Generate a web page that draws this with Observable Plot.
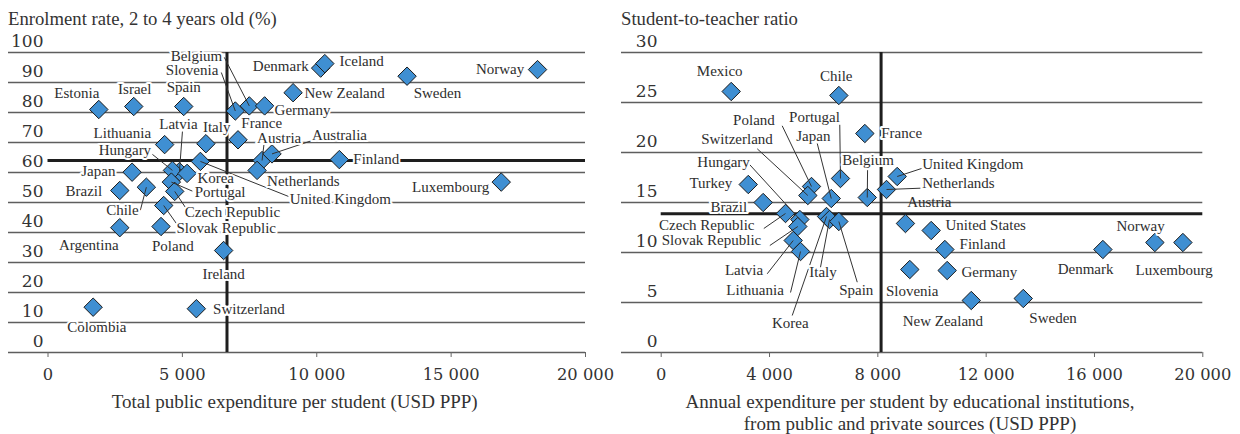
<!DOCTYPE html>
<html><head><meta charset="utf-8">
<script src="https://cdn.jsdelivr.net/npm/d3@7"></script>
<script src="https://cdn.jsdelivr.net/npm/@observablehq/plot@0.6"></script>
<style>
body{margin:0;background:#fff;width:1240px;height:434px;overflow:hidden;font-family:"Liberation Serif",serif;color:#333;position:relative}
.panel{position:absolute;top:0;height:434px}
.title{position:absolute;font-size:18.7px;line-height:20px;white-space:nowrap}
.xtitle{position:absolute;font-size:19px;line-height:22px;text-align:center;white-space:nowrap}
.panel svg{position:absolute;top:20px;left:0;overflow:visible}
</style></head><body>
<div id="left" class="panel" style="left:0;width:610px">
  <div class="title" style="left:8px;top:8.7px">Enrolment rate, 2 to 4 years old (%)</div>
  <div class="xtitle" style="left:44.7px;width:500px;top:390.6px">Total public expenditure per student (USD PPP)</div>
</div>
<div id="right" class="panel" style="left:610px;width:630px">
  <div class="title" style="left:11px;top:8.7px">Student-to-teacher ratio</div>
  <div class="xtitle" style="left:0px;width:600px;top:390.6px">Annual expenditure per student by educational institutions,<br>from public and private sources (USD PPP)</div>
</div>
<script>
// ---------- DATA ----------
const enrolCountries = ["Estonia","Israel","Spain","Slovenia","Belgium","Germany","France","Italy","Lithuania","Latvia","Hungary","Korea","United Kingdom","Portugal","Czech Republic","Slovak Republic","Poland","Chile","Brazil","Japan","Argentina","Ireland","Austria","Australia","Netherlands","Finland","Luxembourg","Norway","Sweden","Denmark","Iceland","New Zealand","Colombia","Switzerland"];
const enrolSpend = [1890,3190,5050,6970,7490,8060,7070,5875,4340,4890,4630,5175,5670,4590,4715,4305,4205,3660,2670,3130,2670,6535,7965,8335,7780,10840,16865,18215,13360,10145,10300,9120,1680,5520];
const enrolRate = [81,82,82,80.5,82.2,82.2,70.9,69.6,69.3,60.3,60.7,59.7,63.7,56.8,53.7,49,42,55.1,54,60.1,41.6,34,64,66.2,60.7,64.3,56.8,94.3,92.1,94.8,96.3,86.6,15.1,14.6];
const enrolMeanSpend = 6660;
const enrolMeanRate = 64;

const ratioCountries = ["Mexico","Chile","France","Turkey","Brazil","Poland","Switzerland","Portugal","Japan","Belgium","United Kingdom","Netherlands","Hungary","Czech Republic","Slovak Republic","Latvia","Lithuania","Korea","Italy","Spain","Austria","United States","Finland","Norway","Luxembourg","Denmark","Germany","Slovenia","New Zealand","Sweden"];
const ratioSpend = [2585,6560,7520,3215,3765,5550,5415,6620,6280,7610,8715,8320,5120,4590,5045,4875,5145,6105,6215,6560,9020,9970,10475,18230,19265,16310,10560,9180,11450,13370];
const ratioValue = [26.1,25.7,21.9,16.8,15.0,16.6,15.7,17.4,15.4,15.5,17.6,16.3,13.3,13.9,12.6,11.2,10.1,13.6,13.3,13.1,12.9,12.2,10.3,11.0,11.0,10.3,8.2,8.3,5.2,5.4];
const ratioMeanSpend = 8120;
const ratioMeanValue = 13.87;

const xTicksLeft = [0,5000,10000,15000,20000];
const xTicksRight = [0,4000,8000,12000,16000,20000];
const yTicksLeft = [0,10,20,30,40,50,60,70,80,90,100];
const yTicksRight = [0,5,10,15,20,25,30];

// ---------- LABEL LAYOUT (pixel offsets from each point: dx, dy, anchor, leader start dx, dy, halo) ----------
const layoutLeft = {
  "Estonia":[-22,-16,"middle"], "Israel":[1,-17,"middle"], "Spain":[0,-19,"middle"],
  "Belgium":[-27,-49.5,"end",-25,-48.5], "Slovenia":[-17,-40.5,"end",-14,-38.5],
  "Germany":[10,4.5,"start"], "France":[3.3,-16.5,"start"], "Italy":[-3,-16.6,"start"],
  "Lithuania":[-13.6,-11.7,"end"], "Latvia":[-1,-47.7,"middle",3,-40],
  "Hungary":[-21.3,-20,"end",-20,-16], "Japan":[-16.7,-1,"end"], "Brazil":[-17.6,0.7,"end"],
  "Chile":[-7.7,23.3,"end",-6,23], "Korea":[10.3,4.5,"start"],
  "United Kingdom":[89.3,38,"start",88,35], "Portugal":[23.3,10.5,"start",21,9],
  "Czech Republic":[10,21,"start",10.7,16], "Slovak Republic":[12.7,22.5,"start",12.7,18],
  "Poland":[11.8,19.7,"middle"], "Argentina":[-31,17.7,"middle"], "Ireland":[0,23.3,"middle"],
  "Colombia":[3.6,20,"middle"], "Switzerland":[16.7,0.7,"start"],
  "Austria":[-5,-22.5,"start",2,-17], "Australia":[40,-18.3,"start",39,-13],
  "Netherlands":[10,11,"start"], "Finland":[14,0,"start"], "Denmark":[-12,-1.5,"end"],
  "Iceland":[14.8,-2,"start"], "New Zealand":[11.3,0,"start"], "Sweden":[6.6,17,"start"],
  "Norway":[-13.3,-0.7,"end"], "Luxembourg":[-12,5,"end"]
};
const layoutRight = {
  "Mexico":[-11.5,-20.7,"middle"], "Chile":[-2.6,-19,"middle"], "France":[16.4,0,"start"],
  "Poland":[-36.7,-66.4,"end",-29.3,-60.7], "Portugal":[-26,-61.7,"middle",-0.7,-53.7],
  "Japan":[-17.9,-62.6,"middle",-14,-55], "Switzerland":[-35,-56.7,"end",-50.6,-46.7],
  "Hungary":[-50,-57.3,"end",-50,-54.7], "Turkey":[-16,-1.3,"end"], "Brazil":[-16,4.3,"end"],
  "Belgium":[0.8,-37.3,"middle",0.3,-27.3], "United Kingdom":[25,-12.7,"start",24.3,-8],
  "Netherlands":[35.7,-6,"start",34,-1.3], "Austria":[1.7,-21,"start",null,null,false],
  "Czech Republic":[-31,11.7,"end",-21.7,15], "Slovak Republic":[-36.6,14,"end",-28,19],
  "Latvia":[-30,30,"end",-26,33.3], "Lithuania":[-16.7,38.3,"end",-10,41],
  "Korea":[-36.2,106.7,"middle",-34.3,99], "Italy":[-6.5,52.7,"middle",-9,47.7],
  "Spain":[17.4,69,"middle",18.4,60.7], "Slovenia":[2.4,21.4,"middle"],
  "United States":[14.3,-5,"start"], "Finland":[14.7,-5.7,"start"], "Germany":[14.3,1.7,"start"],
  "New Zealand":[-28.4,20.7,"middle"], "Sweden":[29.8,20,"middle"], "Denmark":[-17.3,20,"middle"],
  "Norway":[-14.3,-16.7,"middle"], "Luxembourg":[-8.8,27.3,"middle"]
};

const fmt = d3.formatLocale({decimal:".", thousands:" ", grouping:[3], currency:["",""]}).format(",");

function panel({names, xv, yv, layout, xTicks, yTicks, xDomain, yDomain, meanX, meanY, width, mL, mR, ydx}) {
  const H = 370, mT = 32, mB = 38;
  const xs = Plot.scale({x: {domain: xDomain, range: [mL, width - mR]}});
  const ys = Plot.scale({y: {domain: yDomain, range: [H - mB, mT]}});
  const rows = names.map((n, i) => {
    const [dx, dy, anchor, ldx, ldy, halo] = layout[n];
    const px = xs.apply(xv[i]), py = ys.apply(yv[i]);
    return {name: n, x: xv[i], y: yv[i], anchor, halo: halo !== false,
      lx: xs.invert(px + dx), ly: ys.invert(py + dy),
      hasLeader: ldx != null,
      l1x: ldx != null ? xs.invert(px + ldx) : null, l1y: ldx != null ? ys.invert(py + ldy) : null};
  });
  const leaders = rows.filter(r => r.hasLeader);
  const labelMark = (anchor, halo) => Plot.text(rows.filter(r => r.anchor === anchor && r.halo === halo), {
    x: "lx", y: "ly", text: "name", textAnchor: anchor, fontFamily: "Liberation Serif", fontSize: 15,
    fill: "#2e2e2e", stroke: halo ? "white" : "none", strokeWidth: 4, paintOrder: "stroke"
  });
  return Plot.plot({
    width, height: H, marginLeft: mL, marginRight: mR, marginTop: mT, marginBottom: mB,
    x: {domain: xDomain}, y: {domain: yDomain},
    style: {background: "transparent", fontFamily: "DejaVu Serif", fontSize: "16.3px", color: "#333"},
    marks: [
      Plot.ruleY(yTicks, {stroke: "#5e5e5e", strokeWidth: 1.3}),
      Plot.ruleY([meanY], {x1: 0, x2: xDomain[1], stroke: "#1e1e1e", strokeWidth: 3}),
      Plot.ruleX([meanX], {y1: yDomain[0], y2: yDomain[1], stroke: "#1e1e1e", strokeWidth: 3}),
      Plot.axisX({ticks: xTicks, tickSize: 5, tickPadding: 11, tickFormat: fmt, label: null, fontSize: 16.3, stroke: "#666", fill: "#333"}),
      Plot.axisY({ticks: [], label: null}),
      Plot.text(yTicks, {y: d => d, text: d => String(d), frameAnchor: "left", dx: ydx, dy: -11, textAnchor: "end", fontFamily: "DejaVu Serif", fontSize: 17, fill: "#333"}),
      Plot.dot(rows, {x: "x", y: "y", symbol: "diamond2", r: 8.3, fill: "#3f8fd2", stroke: "#1b1b1b", strokeWidth: 1}),
      Plot.link(leaders, {x1: "l1x", y1: "l1y", x2: "x", y2: "y", stroke: "#333", strokeWidth: 1}),
      labelMark("start", true), labelMark("middle", true), labelMark("end", true),
      labelMark("start", false)
    ]
  });
}

document.getElementById("left").appendChild(panel({
  names: enrolCountries, xv: enrolSpend, yv: enrolRate, layout: layoutLeft,
  xTicks: xTicksLeft, yTicks: yTicksLeft, xDomain: [-1470, 20000], yDomain: [0, 100],
  meanX: enrolMeanSpend, meanY: enrolMeanRate, width: 610, mL: 8, mR: 25, ydx: 35
}));
document.getElementById("right").appendChild(panel({
  names: ratioCountries, xv: ratioSpend, yv: ratioValue, layout: layoutRight,
  xTicks: xTicksRight, yTicks: yTicksRight, xDomain: [-1466, 20000], yDomain: [0, 30],
  meanX: ratioMeanSpend, meanY: ratioMeanValue, width: 630, mL: 11, mR: 37.7, ydx: 36
}));
</script>
</body></html>
